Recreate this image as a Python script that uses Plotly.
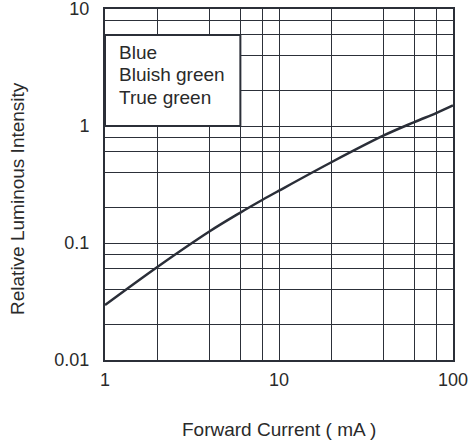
import plotly.graph_objects as go

# Data
forward_current = [1, 2, 4, 6, 8, 10, 20, 40, 60, 80, 100]
relative_intensity = [0.0295, 0.0624, 0.126, 0.182, 0.233, 0.28, 0.49, 0.83, 1.08, 1.29, 1.5]

x_tick_vals = [1, 10, 100]
x_tick_text = ["1", "10", "100"]
y_tick_vals = [0.01, 0.1, 1, 10]
y_tick_text = ["0.01", "0.1", "1", "10"]
x_minor_grid = [2, 4, 6, 8, 20, 40, 60, 80]
y_minor_grid = [0.02, 0.04, 0.06, 0.08, 0.2, 0.4, 0.6, 0.8, 2, 4, 6, 8]

legend_labels = ["Blue", "Bluish green", "True green"]
x_title = "Forward Current ( mA )"
y_title = "Relative Luminous Intensity"

FONT = "Liberation Sans, Arial, sans-serif"
TXT = "#2a2a2a"
GRID = "#2c3039"
AX = "#2b2f38"

fig = go.Figure()
fig.add_trace(go.Scatter(
    x=forward_current, y=relative_intensity, mode="lines",
    line=dict(color="#2a2e38", width=2.5, shape="spline", smoothing=1.0),
    showlegend=False, hoverinfo="skip",
))

axis_common = dict(
    type="log", showline=True, mirror=True, linecolor=AX, linewidth=2,
    showgrid=True, gridcolor=GRID, gridwidth=1, ticks="",
    tickfont=dict(family=FONT, size=18, color=TXT), zeroline=False,
    automargin=False, ticklabeloverflow="allow",
)

fig.update_xaxes(
    **axis_common, range=[0, 2], tickmode="array",
    tickvals=x_tick_vals, ticktext=x_tick_text,
    minor=dict(tickvals=x_minor_grid, showgrid=True, gridcolor=GRID, gridwidth=1, ticks=""),
    ticklabelstandoff=2,
)
fig.update_yaxes(
    **axis_common, range=[-2, 1], tickmode="array",
    tickvals=y_tick_vals, ticktext=y_tick_text,
    minor=dict(tickvals=y_minor_grid, showgrid=True, gridcolor=GRID, gridwidth=1, ticks=""),
    ticklabelstandoff=10,
)

# axis titles
fig.add_annotation(text=x_title, xref="paper", yref="paper", x=0.5, y=-0.197,
                   xanchor="center", yanchor="middle", showarrow=False,
                   font=dict(family=FONT, size=19, color=TXT))
fig.add_annotation(text=y_title, xref="paper", yref="paper", x=-0.253, y=0.4615,
                   xanchor="center", yanchor="middle", showarrow=False, textangle=-90,
                   font=dict(family=FONT, size=19, color=TXT))

# legend box (white panel over the grid)
fig.add_shape(type="rect", xref="x domain", yref="y domain",
              x0=0, x1=0.389, y0=2/3, y1=0.926,
              fillcolor="white", line=dict(color=AX, width=2), layer="above")
for i, lab in enumerate(legend_labels):
    fig.add_annotation(text=lab, xref="x domain", yref="y domain",
                       x=0.034, y=0.877 - i * 0.064, xanchor="left", yanchor="middle",
                       showarrow=False, font=dict(family=FONT, size=19, color=TXT))

fig.update_layout(
    width=475, height=445,
    margin=dict(l=105, r=22, t=9, b=85, autoexpand=False),
    paper_bgcolor="white", plot_bgcolor="white",
    showlegend=False,
)

fig.write_html("out.html", config={"displayModeBar": False},
               post_script="document.body.style.margin='0';document.body.style.padding='0';")
